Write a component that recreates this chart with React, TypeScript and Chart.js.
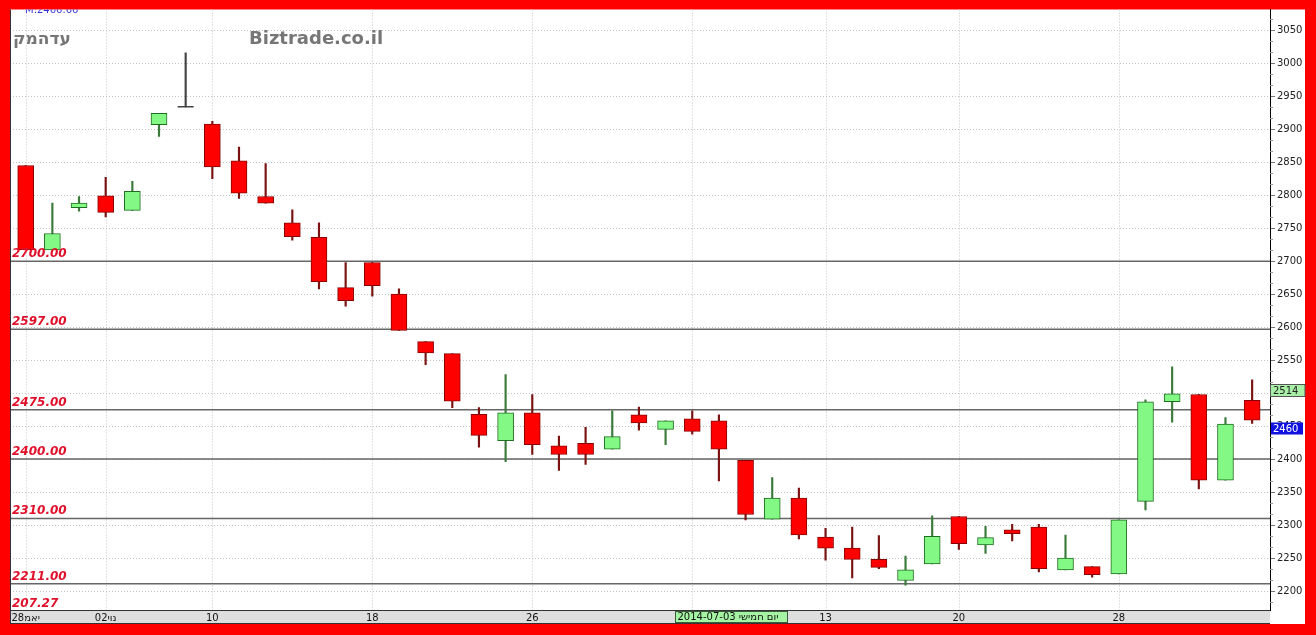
import React, { useEffect, useRef } from 'react';
import { Chart, registerables } from 'chart.js';

Chart.register(...registerables);

// ---- data ----
const openValues = [2845, 2717, 2781, 2799, 2777, 2907, 2934, 2908, 2852, 2798, 2758, 2736, 2660, 2698, 2650, 2578, 2560, 2468, 2428, 2470, 2420, 2424, 2415, 2467, 2445, 2461, 2458, 2398, 2309, 2341, 2282, 2265, 2248, 2216, 2241, 2313, 2270, 2293, 2297, 2232, 2237, 2226, 2336, 2487, 2498, 2368, 2489];
const highValues = [2845, 2788, 2798, 2827, 2821, 2924, 3016, 2912, 2873, 2848, 2778, 2758, 2698, 2698, 2658, 2578, 2560, 2478, 2528, 2498, 2435, 2448, 2473, 2479, 2458, 2473, 2467, 2398, 2372, 2356, 2295, 2297, 2284, 2253, 2314, 2313, 2298, 2301, 2301, 2285, 2237, 2308, 2490, 2540, 2498, 2463, 2520];
const lowValues = [2717, 2717, 2776, 2767, 2777, 2889, 2934, 2825, 2795, 2788, 2732, 2658, 2632, 2647, 2595, 2543, 2478, 2418, 2396, 2407, 2383, 2392, 2415, 2444, 2422, 2438, 2367, 2308, 2309, 2279, 2247, 2220, 2234, 2209, 2241, 2263, 2257, 2276, 2229, 2232, 2221, 2226, 2323, 2456, 2355, 2368, 2454];
const closeValues = [2717, 2742, 2788, 2774, 2806, 2924, 2934, 2843, 2803, 2788, 2737, 2669, 2640, 2663, 2595, 2561, 2488, 2436, 2470, 2422, 2407, 2407, 2434, 2455, 2458, 2442, 2415, 2316, 2341, 2285, 2265, 2248, 2236, 2232, 2283, 2272, 2281, 2287, 2234, 2250, 2225, 2308, 2487, 2499, 2368, 2453, 2459];

// Hebrew strings are written in the glyph order in which the source picture shows them
const dateTickIndex = [0, 3, 7, 13, 19, 25, 30, 35, 41];
const dateTickLabels = ['28יאמ', '02נוי', '10', '18', '26', '', '13', '20', '28'];
const yTickValues = [2200, 2250, 2300, 2350, 2400, 2450, 2500, 2550, 2600, 2650, 2700, 2750, 2800, 2850, 2900, 2950, 3000, 3050];
const levelValues = [2700, 2597, 2475, 2400, 2310, 2211];
const levelLabels = ['2700.00', '2597.00', '2475.00', '2400.00', '2310.00', '2211.00'];
const offChartLevelLabel = '207.27';
const priceMarkerValues = [2514, 2460];
const priceMarkerLabels = ['2514', '2460'];
const crosshairIndex = 25;
const crosshairLabel = '2014-07-03 יום חמישי';
const titleText = 'עדהמק';
const brandText = 'Biztrade.co.il';
const topInfoText = 'M:2466.66';

const RED = '#ff0000';
const RED_EDGE = '#8a0000';
const RED_WICK = '#7a1212';
const GREEN = '#84f884';
const GREEN_EDGE = '#1f6e1f';
const GREEN_WICK = '#3a7a3a';
const FONT = '"DejaVu Sans", Verdana, sans-serif';

const decorPlugin = {
  id: 'decor',
  beforeDraw(chart: any) {
    const { ctx, chartArea: a, scales } = chart;
    const xs = scales.x;
    const ys = scales.y;
    ctx.save();
    ctx.fillStyle = '#ff0000';
    ctx.fillRect(0, 0, chart.width, chart.height);
    ctx.fillStyle = '#ffffff';
    ctx.fillRect(a.left, a.top, ys.right + 1 - a.left, xs.bottom - a.top);
    ctx.fillStyle = '#dedede';
    ctx.fillRect(a.left, a.bottom, a.right - a.left, xs.bottom - a.bottom);

    // dotted grid
    ctx.strokeStyle = '#c2c2c2';
    ctx.lineWidth = 1;
    ctx.setLineDash([1, 2]);
    ctx.beginPath();
    yTickValues.forEach((v) => {
      const py = Math.round(ys.getPixelForValue(v)) + 0.5;
      ctx.moveTo(a.left, py);
      ctx.lineTo(a.right, py);
    });
    dateTickIndex.forEach((i) => {
      const px = Math.round(xs.getPixelForValue(i)) + 0.5;
      ctx.moveTo(px, a.top);
      ctx.lineTo(px, a.bottom);
    });
    ctx.stroke();
    ctx.setLineDash([]);

    // level lines
    ctx.strokeStyle = '#666666';
    ctx.lineWidth = 1.5;
    ctx.beginPath();
    levelValues.forEach((v) => {
      const py = ys.getPixelForValue(v);
      ctx.moveTo(a.left, py);
      ctx.lineTo(a.right, py);
    });
    ctx.stroke();

    // titles
    ctx.save();
    ctx.beginPath();
    ctx.rect(a.left, a.top, a.right - a.left, a.bottom - a.top);
    ctx.clip();
    ctx.fillStyle = '#3333dd';
    ctx.font = `10px ${FONT}`;
    ctx.textBaseline = 'alphabetic';
    ctx.textAlign = 'left';
    ctx.fillText(topInfoText, 25, 13);
    ctx.restore();

    ctx.fillStyle = '#767676';
    ctx.font = `bold 17px ${FONT}`;
    ctx.textBaseline = 'middle';
    ctx.textAlign = 'left';
    ctx.fillText(titleText, 13, 40);
    ctx.font = `bold 18px ${FONT}`;
    ctx.fillText(brandText, 249, 39);
    ctx.restore();
  },
  afterDatasetsDraw(chart: any) {
    const { ctx, chartArea: a, scales } = chart;
    const ys = scales.y;
    ctx.save();
    ctx.fillStyle = '#e0102a';
    ctx.font = `italic bold 12px ${FONT}`;
    ctx.textAlign = 'left';
    ctx.textBaseline = 'alphabetic';
    levelValues.forEach((v, i) => {
      ctx.fillText(levelLabels[i], a.left + 2, ys.getPixelForValue(v) - 4);
    });
    ctx.fillText(offChartLevelLabel, a.left + 2, a.bottom - 3.5);
    ctx.restore();
  },
  afterDraw(chart: any) {
    const { ctx, chartArea: a, scales } = chart;
    const xs = scales.x;
    const ys = scales.y;
    ctx.save();
    // frame lines
    ctx.strokeStyle = '#333333';
    ctx.lineWidth = 1;
    ctx.beginPath();
    ctx.moveTo(a.left + 0.5, a.top);
    ctx.lineTo(a.left + 0.5, xs.bottom);
    ctx.moveTo(a.left, xs.bottom - 0.5);
    ctx.lineTo(a.right, xs.bottom - 0.5);
    ctx.moveTo(a.left, a.bottom + 0.5);
    ctx.lineTo(a.right, a.bottom + 0.5);
    ctx.stroke();

    // minor ticks on the price axis
    ctx.strokeStyle = '#999999';
    ctx.beginPath();
    yTickValues.forEach((v) => {
      [v - 50 / 3, v - 100 / 3, v + 50 / 3, v + 100 / 3].forEach((m) => {
        if (m < ys.min || m > ys.max) return;
        const py = Math.round(ys.getPixelForValue(m)) + 0.5;
        ctx.moveTo(ys.left, py);
        ctx.lineTo(ys.left + 3, py);
      });
    });
    ctx.stroke();

    // crosshair date label
    const cx = xs.getPixelForValue(crosshairIndex);
    const bx = Math.round(cx - 17) + 0.5;
    const by = a.bottom + 1.5;
    const bw = 112;
    const bh = xs.bottom - a.bottom - 3;
    ctx.fillStyle = '#a4f4a4';
    ctx.fillRect(bx, by, bw, bh);
    ctx.strokeStyle = '#3a5a3a';
    ctx.strokeRect(bx, by, bw, bh);
    ctx.save();
    ctx.beginPath();
    ctx.rect(bx, by, bw - 1, bh);
    ctx.clip();
    ctx.fillStyle = '#111111';
    ctx.font = `10px ${FONT}`;
    ctx.textAlign = 'left';
    ctx.textBaseline = 'middle';
    ctx.fillText(crosshairLabel, bx + 2, by + bh / 2 + 0.5);
    ctx.restore();

    // price markers on the axis
    const fills = ['#a8f0a8', '#1010e0'];
    const texts = ['#222222', '#ffffff'];
    const widths = [34, 32];
    const offs = [0.5, 2];
    priceMarkerValues.forEach((v, i) => {
      const top = Math.round(ys.getPixelForValue(v) + offs[i]) + 0.5;
      ctx.fillStyle = fills[i];
      ctx.fillRect(ys.left + 1, top, widths[i], 12);
      if (i === 0) {
        ctx.strokeStyle = '#555555';
        ctx.strokeRect(ys.left + 0.5, top, widths[i] + 0.5, 12);
      }
      ctx.fillStyle = texts[i];
      ctx.font = `10px ${FONT}`;
      ctx.textAlign = 'left';
      ctx.textBaseline = 'middle';
      ctx.fillText(priceMarkerLabels[i], ys.left + 3, top + 6.5);
    });
    ctx.restore();
  },
};

export default function App() {
  const canvasRef = useRef<HTMLCanvasElement | null>(null);

  useEffect(() => {
    if (!canvasRef.current) return;
    const idx = openValues.map((_, i) => i);
    const isUp = (i: number) => closeValues[i] > openValues[i];
    const isDoji = (i: number) => closeValues[i] === openValues[i];
    const bodyIdx = idx.filter((i) => !isDoji(i));
    const dojiIdx = idx.filter((i) => isDoji(i));

    const chart = new Chart(canvasRef.current, {
      type: 'bar',
      data: {
        datasets: [
          {
            type: 'scatter',
            label: 'doji',
            data: dojiIdx.map((i) => ({ x: i, y: openValues[i] })),
            pointStyle: 'line',
            pointRadius: 8,
            pointHoverRadius: 8,
            borderColor: '#444444',
            borderWidth: 1.5,
            order: 0,
          } as any,
          {
            type: 'bar',
            label: 'body',
            data: bodyIdx.map((i) => ({ x: i, y: [openValues[i], closeValues[i]] })),
            backgroundColor: bodyIdx.map((i) => (isUp(i) ? GREEN : RED)),
            borderColor: bodyIdx.map((i) => (isUp(i) ? GREEN_EDGE : RED_EDGE)),
            borderWidth: 1,
            borderSkipped: false,
            barThickness: 16,
            grouped: false,
            order: 1,
          } as any,
          {
            type: 'bar',
            label: 'wick',
            data: idx.map((i) => ({ x: i, y: [lowValues[i], highValues[i]] })),
            backgroundColor: idx.map((i) => (isDoji(i) ? '#444444' : isUp(i) ? GREEN_WICK : RED_WICK)),
            borderWidth: 0,
            barThickness: 1.5,
            grouped: false,
            order: 2,
          } as any,
        ],
      },
      options: {
        responsive: false,
        animation: false,
        events: [],
        layout: { padding: { left: 10, top: 5, right: 12, bottom: 11 } },
        plugins: { legend: { display: false }, tooltip: { enabled: false } },
        scales: {
          x: {
            type: 'linear',
            min: -0.589,
            max: 46.67,
            offset: false,
            afterBuildTicks: (s: any) => {
              s.ticks = dateTickIndex.map((v) => ({ value: v }));
            },
            afterFit: (s: any) => {
              s.height = 14;
            },
            grid: { display: false, drawTicks: false },
            border: { display: true, color: '#333333', width: 1 },
            ticks: {
              autoSkip: false,
              maxRotation: 0,
              minRotation: 0,
              padding: 2,
              color: '#111111',
              font: { family: FONT, size: 10 },
              callback: (v: any) => {
                const k = dateTickIndex.indexOf(Number(v));
                return k >= 0 ? dateTickLabels[k] : '';
              },
            },
          },
          y: {
            type: 'linear',
            position: 'right',
            min: 2171.3,
            max: 3081.5,
            afterBuildTicks: (s: any) => {
              s.ticks = yTickValues.map((v) => ({ value: v }));
            },
            afterFit: (s: any) => {
              s.width = 34;
            },
            grid: { drawOnChartArea: false, drawTicks: true, tickLength: 5, tickColor: '#777777', tickWidth: 1 },
            border: { display: true, color: '#000000', width: 1 },
            ticks: {
              autoSkip: false,
              padding: 2,
              color: '#222222',
              font: { family: FONT, size: 10 },
              callback: (v: any) => String(v),
            },
          },
        },
      } as any,
      plugins: [decorPlugin],
    });
    return () => chart.destroy();
  }, []);

  return (
    <div style={{ position: 'fixed', left: 0, top: 0, width: 1316, height: 635 }}>
      <canvas ref={canvasRef} width={1316} height={635} style={{ display: 'block', width: 1316, height: 635 }} />
    </div>
  );
}
